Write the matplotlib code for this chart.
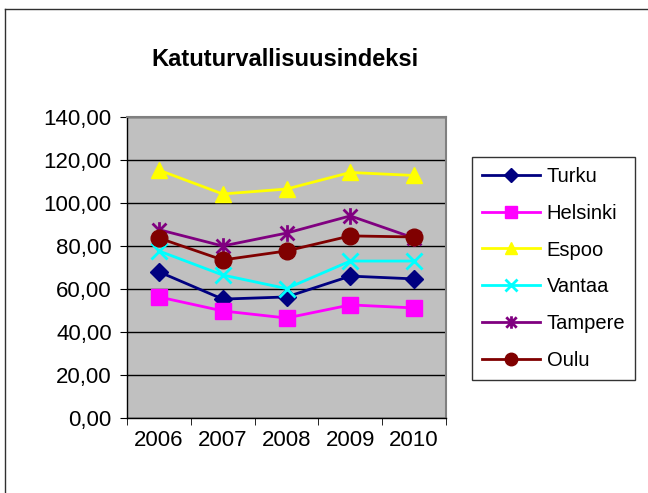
import numpy as np
import matplotlib.pyplot as plt
from matplotlib.lines import Line2D
from matplotlib.path import Path

plt.rcParams["font.family"] = ["Liberation Sans", "DejaVu Sans"]

years = ["2006", "2007", "2008", "2009", "2010"]
turku = [68.0, 55.3, 56.3, 66.0, 64.7]
helsinki = [56.3, 49.8, 46.5, 52.6, 51.2]
espoo = [115.3, 104.2, 106.5, 114.2, 112.8]
vantaa = [77.7, 66.5, 60.2, 73.0, 73.0]
tampere = [87.6, 80.0, 86.0, 94.0, 83.7]
oulu = [83.7, 73.5, 77.7, 84.7, 84.2]

# excel style star: an x with a vertical bar through it
star = Path(
    [(-1, -1), (1, 1), (-1, 1), (1, -1), (0, -1.2), (0, 1.2)],
    [Path.MOVETO, Path.LINETO, Path.MOVETO, Path.LINETO, Path.MOVETO, Path.LINETO],
)

series = [
    ("Turku", turku, "#000080", "D", 9),
    ("Helsinki", helsinki, "#FF00FF", "s", 11),
    ("Espoo", espoo, "#FFFF00", "^", 12),
    ("Vantaa", vantaa, "#00FFFF", "x", 11),
    ("Tampere", tampere, "#800080", star, 12),
    ("Oulu", oulu, "#800000", "o", 12),
]

fig = plt.figure(figsize=(6.48, 4.93), dpi=100)
ax = fig.add_axes([127 / 648, 75 / 493, 319 / 648, 301 / 493])
ax.set_facecolor("#C0C0C0")

x = np.arange(len(years))
for name, vals, col, mk, ms in series:
    unfilled = mk in ("x",) or mk is star
    ax.plot(x, vals, color=col, lw=2, marker=mk, markersize=ms,
            markerfacecolor=col, markeredgecolor=col,
            markeredgewidth=2 if unfilled else 1, label=name, zorder=3)

ax.set_xlim(-0.5, 4.5)
ax.set_ylim(0, 140)
ax.set_yticks(np.arange(0, 141, 20))
ax.set_yticklabels([f"{v:.2f}".replace(".", ",") for v in np.arange(0, 141, 20)])
ax.set_xticks(x)
ax.set_xticklabels(years)
ax.set_xticks(np.arange(-0.5, 5, 1), minor=True)
ax.tick_params(axis="x", which="major", length=0, pad=9, labelsize=16)
ax.tick_params(axis="x", which="minor", length=5, direction="out", color="black")
ax.tick_params(axis="y", length=5, direction="out", labelsize=16, pad=6)
ax.yaxis.grid(True, color="#000000", lw=1)
ax.set_axisbelow(True)
for s in ("top", "right"):
    ax.spines[s].set_color("#808080")
    ax.spines[s].set_linewidth(1.5)
for s in ("left", "bottom"):
    ax.spines[s].set_color("black")
    ax.spines[s].set_linewidth(1)

leg = fig.legend(loc="upper left", bbox_to_anchor=(472 / 648, 1 - 157 / 493),
                 fontsize=14.5, frameon=True, fancybox=False, handlelength=2.9,
                 handletextpad=0.3, labelspacing=0.88, borderpad=0.5,
                 borderaxespad=0, markerscale=0.75)
leg.get_frame().set_edgecolor("black")
leg.get_frame().set_linewidth(1)

fig.text(285 / 648, 1 - 59 / 493, "Katuturvallisuusindeksi", ha="center",
         va="center", fontsize=17, fontweight="bold")

# outer chart frame, cut off at the right and bottom
fig.add_artist(Line2D([5 / 648, 5 / 648], [0, 1 - 9 / 493], color="#303030",
                      lw=1, transform=fig.transFigure))
fig.add_artist(Line2D([5 / 648, 1], [1 - 9 / 493, 1 - 9 / 493], color="#303030",
                      lw=1, transform=fig.transFigure))

fig.savefig("out.png", dpi=100, facecolor="white")
